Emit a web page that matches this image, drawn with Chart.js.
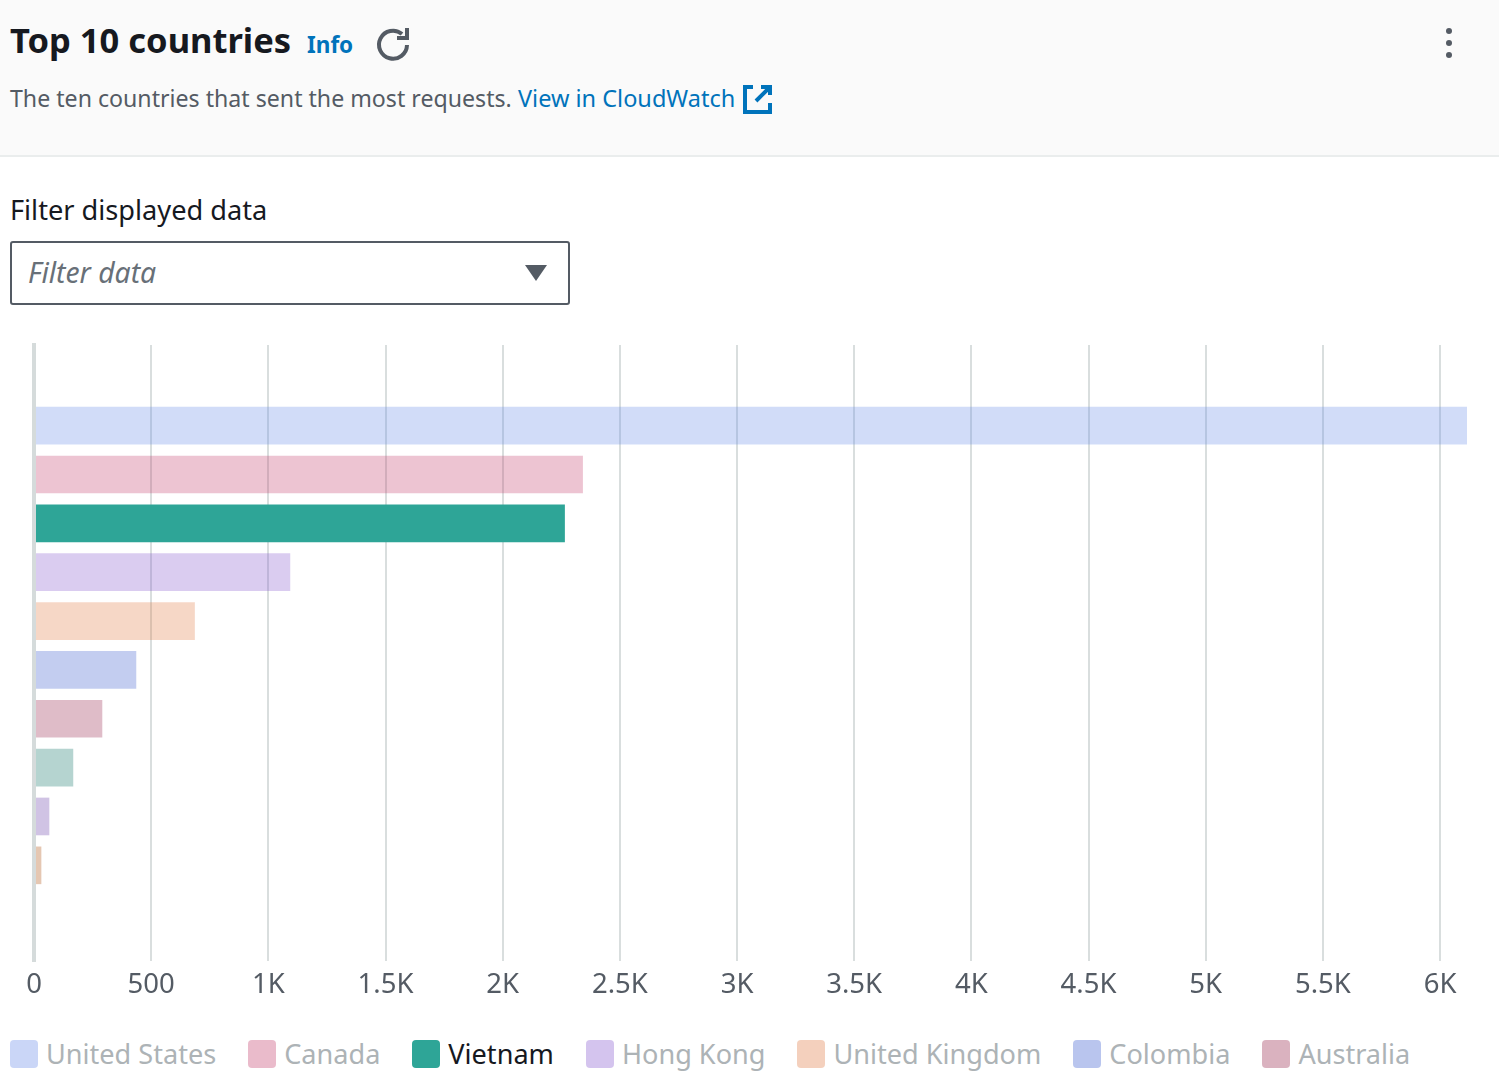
<!DOCTYPE html>
<html>
<head>
<meta charset="utf-8">
<title>Top 10 countries</title>
<script src="https://cdn.jsdelivr.net/npm/chart.js@4/dist/chart.umd.min.js"></script>
<style>
  html, body { margin: 0; padding: 0; background: #fff; }
  body { width: 1499px; height: 1092px; position: relative; overflow: hidden; font-family: "Noto Sans", sans-serif; }
  .abs { position: absolute; white-space: nowrap; }
  #head { left: 0; top: 0; width: 1499px; height: 155px; background: #fafafa; border-bottom: 2px solid #eaeded; }
  #title { left: 10px; top: 17px; font-size: 34.5px; line-height: 46px; font-weight: 700; color: #16191f; }
  #info { left: 307px; top: 28px; font-size: 22.5px; line-height: 33px; font-weight: 700; color: #0073bb; }
  #sub { left: 10px; top: 81px; font-size: 23.15px; line-height: 34px; color: #545b64; }
  #link { left: 518px; top: 81px; font-size: 23.5px; line-height: 34px; color: #0073bb; }
  #lbl { left: 10px; top: 191px; font-size: 27.2px; line-height: 38px; color: #16191f; }
  #box { left: 10px; top: 241px; width: 556px; height: 60px; border: 2px solid #545b64; border-radius: 3px; }
  #ph { left: 28px; top: 253px; font-size: 28.3px; line-height: 38px; font-style: italic; color: #687078; }
  #wrap { position: absolute; left: 0; top: 340px; width: 1499px; height: 670px; }
  #legend { left: 10px; top: 1034px; width: 1440px; height: 40px; display: flex; overflow: hidden; }
  .item { display: flex; align-items: center; flex: none; margin-right: 32px; font-size: 27.1px; line-height: 38px; color: #adb3b6; }
  .item.on { color: #16191f; }
  .item i { width: 28px; height: 28px; border-radius: 4px; margin-right: 8px; display: block; }
</style>
</head>
<body>
<div class="abs" id="head"></div>
<div class="abs" id="title">Top 10 countries</div>
<div class="abs" id="info">Info</div>
<svg class="abs" style="left:375px;top:25px" width="38" height="38" viewBox="0 0 38 38" fill="none" stroke="#545b64" stroke-width="4">
  <path d="M32 20a14 14 0 1 1-5-11" />
  <path d="M32 3v10h-10" />
</svg>
<svg class="abs" style="left:1444px;top:27px" width="10" height="32" viewBox="0 0 10 32" fill="#545b64">
  <circle cx="5" cy="4" r="3"/><circle cx="5" cy="16" r="3"/><circle cx="5" cy="28" r="3"/>
</svg>
<div class="abs" id="sub">The ten countries that sent the most requests.</div>
<div class="abs" id="link">View in CloudWatch</div>
<svg class="abs" style="left:743px;top:84px" width="30" height="30" viewBox="0 0 30 30" fill="none" stroke="#0073bb" stroke-width="4">
  <path d="M10 3H2v25h25v-9" />
  <path d="M27 11V3h-9M27 3L13 17" />
</svg>
<div class="abs" id="lbl">Filter displayed data</div>
<div class="abs" id="box"></div>
<div class="abs" id="ph">Filter data</div>
<svg class="abs" style="left:525px;top:264px" width="22" height="18" viewBox="0 0 22 18" fill="#545b64"><path d="M0 1h22L11 17z"/></svg>
<div id="wrap"><canvas id="chart"></canvas></div>
<div class="abs" id="legend"></div>
<script>
// only the first seven names can be read, the legend is cut off after Australia
const countries = ['United States', 'Canada', 'Vietnam', 'Hong Kong', 'United Kingdom', 'Colombia', 'Australia'];
const requests = [6115, 2341, 2264, 1092, 685, 435, 290, 166, 64, 30];
const colors = ['#688ae8', '#c33d69', '#2ea597', '#8456ce', '#e07941', '#3759ce', '#962249', '#096f64', '#6237a7', '#a84401'];
const tickValues = [0, 500, 1000, 1500, 2000, 2500, 3000, 3500, 4000, 4500, 5000, 5500, 6000];
const activeIndex = 2;

function alpha(hex, a) {
  const n = parseInt(hex.slice(1), 16);
  return `rgba(${n >> 16},${(n >> 8) & 255},${n & 255},${a})`;
}

function fmtTick(v) {
  return v >= 1000 ? (v / 1000) + 'K' : String(v);
}

new Chart(document.getElementById('chart').getContext('2d'), {
  type: 'bar',
  data: {
    datasets: [{
      data: requests.map((v, i) => ({ x: v, y: i })),
      backgroundColor: colors.map((c, i) => i === activeIndex ? c : alpha(c, 0.3)),
      borderWidth: 0,
      barThickness: 37
    }]
  },
  options: {
    indexAxis: 'y',
    responsive: true,
    maintainAspectRatio: false,
    animation: false,
    layout: { padding: { left: 26, right: 32, top: 5, bottom: 0 } },
    plugins: { legend: { display: false }, tooltip: { enabled: false } },
    scales: {
      x: {
        type: 'linear',
        min: 0,
        max: 6115,
        afterBuildTicks: axis => { axis.ticks = tickValues.map(v => ({ value: v })); },
        grid: {
          color: '#d9dede',
          lineWidth: 2,
          drawTicks: false
        },
        border: { display: false },
        ticks: {
          padding: 8,
          maxRotation: 0,
          autoSkip: false,
          color: '#545b64',
          font: { family: '"Noto Sans"', size: 27.5 },
          callback: fmtTick
        }
      },
      y: {
        type: 'linear',
        reverse: true,
        offset: false,
        min: -1.65,
        max: 10.958,
        grid: { display: false },
        ticks: { display: false },
        border: { display: true, color: '#d5dbdb', width: 4, z: 1 }
      }
    }
  }
});

const legend = document.getElementById('legend');
countries.forEach((c, i) => {
  const el = document.createElement('div');
  el.className = 'item' + (i === activeIndex ? ' on' : '');
  const sw = document.createElement('i');
  sw.style.background = i === activeIndex ? colors[i] : alpha(colors[i], 0.35);
  el.appendChild(sw);
  el.appendChild(document.createTextNode(c));
  legend.appendChild(el);
});
</script>
</body>
</html>
